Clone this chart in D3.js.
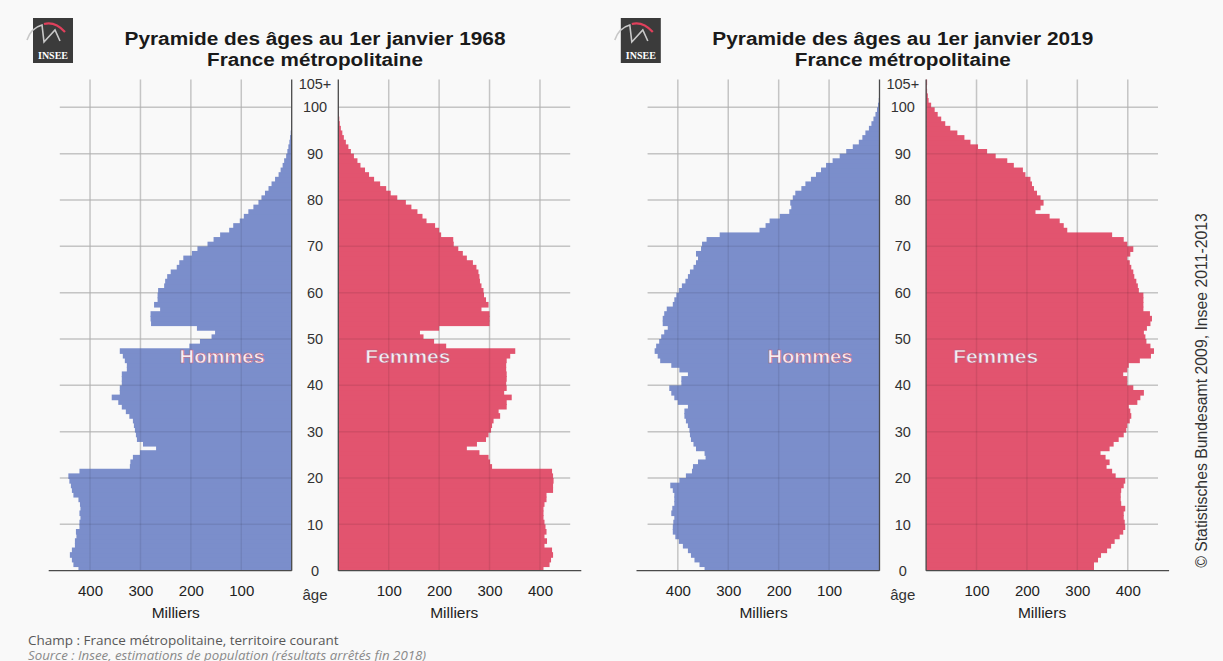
<!DOCTYPE html>
<html>
<head>
<meta charset="utf-8">
<script src="https://cdn.jsdelivr.net/npm/d3@7"></script>
<style>
html, body { margin: 0; padding: 0; background: #f9f9f9; }
svg { display: block; font-family: "Liberation Sans", Arial, sans-serif; }
</style>
</head>
<body>
<svg id="chart" width="1223" height="661"></svg>
<script>
// Ages 0 .. 105 (105 = "105+"), values in thousands
const ages = d3.range(0, 106);
const ageTicks = [0, 10, 20, 30, 40, 50, 60, 70, 80, 90, 100];
const valueTicks = [100, 200, 300, 400];

const hommes1968 = [423,433,436,440,436,430,430,427,428,421, 421,419,421,419,420,423,433,436,438,441,
  443,421,321,320,315,301,269,295,307,309, 311,313,315,322,329,337,344,357,341,341,
  337,337,337,327,327,331,335,341,203,182, 159,152,188,279,280,280,261,273,266,266,
  265,253,251,247,240,228,223,215,198,187, 167,155,142,124,116,103,95,86,76,66,
  60,53,46,40,33,26,22,18,15,11, 8.6,6.6,4.6,3.3,2,1.2,0.7,0.4,0.2,0.1, 0,0,0,0,0,0];
const femmes1968 = [407,419,422,426,424,409,414,409,413,411, 409,407,407,407,409,413,413,426,426,427,
  426,424,305,301,298,280,255,275,293,298, 303,305,308,321,318,334,334,344,329,334,
  333,334,334,333,333,334,341,351,214,190, 169,162,200,300,300,300,284,298,293,289,
  288,284,281,280,278,274,267,255,247,238, 229,228,204,200,192,175,167,157,145,134,
  117,104,95,83,71,61,53,44,38,31, 25,20,15,11,8,5,3,2,1.2,0.7, 0.4,0.2,0.1,0.1,0.1,0.1];
const hommes2019 = [347,357,367,374,380,390,398,405,410,410, 409,407,413,411,407,407,407,410,415,397,
  384,372,370,360,345,347,364,369,374,376, 377,380,384,387,387,380,400,407,413,417,
  393,393,380,397,413,435,440,446,443,437, 433,427,420,430,430,427,422,410,407,403,
  398,392,385,380,376,369,364,360,364,354, 352,343,317,238,226,218,198,179,175,177,
  172,167,155,147,136,126,116,106,93,79, 66,53,41,34,28,21,16,12,8,5, 3,1.5,1,0.5,0.3,0.3];
const femmes2019 = [333,333,341,347,359,367,374,384,391,395, 394,392,392,395,387,386,386,387,392,395,
  376,369,358,364,356,346,364,372,382,392, 397,399,404,407,405,402,419,425,432,411,
  399,399,391,399,402,424,446,452,445,437, 435,432,438,445,448,444,431,431,431,431,
  422,420,417,413,411,407,404,399,405,411, 399,392,369,280,273,265,245,217,227,233,
  227,220,214,210,207,197,192,174,161,138, 121,103,88,76,62,48,38,30,23,17, 10,5,3.5,2,1.5,2];

const panels = [
  { annee: "1968", hommes: hommes1968, femmes: femmes1968, cx: 315 },
  { annee: "2019", hommes: hommes2019, femmes: femmes2019, cx: 902.8 }
];

const blue = "#7b8ecb", red = "#e2546f";
const halfGap = 23.3, sideWidth = 243, axisMax = 482, gridMax = 460, labelValue = 138;

let svg = d3.select("#chart");

svg.append("rect")
    .attr("width", 1223)
    .attr("height", 661)
    .attr("fill", "#f9f9f9");

let y = d3.scaleLinear()
    .domain([0, 106])
    .range([570.7, 79.5]);

function drawLogo(g, x0, y0) {
    let logo = g.append("g").attr("transform", "translate(" + x0 + "," + y0 + ")");
    logo.append("rect")
        .attr("width", 40).attr("height", 45)
        .attr("fill", "#3b3b3b");
    logo.append("path")
        .attr("d", "M-6,22 Q-2,10 9,7 L11,24 L22,12 L27,23")
        .attr("fill", "none")
        .attr("stroke", "#c8c8c8")
        .attr("stroke-width", 1.6);
    logo.append("path")
        .attr("d", "M11,6 Q22,3 32,14")
        .attr("fill", "none")
        .attr("stroke", "#e0405c")
        .attr("stroke-width", 2.2);
    logo.append("text")
        .attr("x", 20).attr("y", 41)
        .attr("text-anchor", "middle")
        .style("font-family", "'Liberation Serif', serif")
        .style("font-weight", "bold")
        .style("font-size", "10px")
        .attr("fill", "#ffffff")
        .text("INSEE");
}

function gridLines(grid, xH, xF) {
    ageTicks.slice(1).forEach(function(a) {
        grid.append("line")
            .attr("x1", xH(gridMax)).attr("x2", xH(0))
            .attr("y1", y(a)).attr("y2", y(a));
        grid.append("line")
            .attr("x1", xF(0)).attr("x2", xF(gridMax))
            .attr("y1", y(a)).attr("y2", y(a));
    });
    valueTicks.forEach(function(v) {
        grid.append("line")
            .attr("x1", xH(v)).attr("x2", xH(v))
            .attr("y1", y(106)).attr("y2", y(0));
        grid.append("line")
            .attr("x1", xF(v)).attr("x2", xF(v))
            .attr("y1", y(106)).attr("y2", y(0));
    });
}

panels.forEach(function(p) {
    let g = svg.append("g");

    let xH = d3.scaleLinear()
        .domain([axisMax, 0])
        .range([p.cx - halfGap - sideWidth, p.cx - halfGap]);
    let xF = d3.scaleLinear()
        .domain([0, axisMax])
        .range([p.cx + halfGap, p.cx + halfGap + sideWidth]);

    // light grid under the bars
    gridLines(g.append("g").attr("stroke", "#d6d6d6").attr("stroke-width", 1.5), xH, xF);

    // bars (1px overlap downward hides antialiasing seams)
    g.append("g").selectAll("rect")
        .data(ages)
        .enter()
        .append("rect")
        .attr("x", function(a) { return xH(p.hommes[a]); })
        .attr("y", function(a) { return y(a + 1); })
        .attr("width", function(a) { return xH(0) - xH(p.hommes[a]); })
        .attr("height", function(a) { return a === 0 ? y(0) - y(1) : y(a) - y(a + 1) + 1; })
        .attr("fill", blue);

    g.append("g").selectAll("rect")
        .data(ages)
        .enter()
        .append("rect")
        .attr("x", xF(0))
        .attr("y", function(a) { return y(a + 1); })
        .attr("width", function(a) { return xF(p.femmes[a]) - xF(0); })
        .attr("height", function(a) { return a === 0 ? y(0) - y(1) : y(a) - y(a + 1) + 1; })
        .attr("fill", red);

    // faint grid over the bars
    gridLines(g.append("g").attr("stroke", "rgba(0,0,0,0.08)").attr("stroke-width", 1.5), xH, xF);

    // axis lines
    let axes = g.append("g").attr("stroke", "#4a4a4a").attr("stroke-width", 1.3);
    axes.append("line")
        .attr("x1", xH(0)).attr("x2", xH(0))
        .attr("y1", y(106)).attr("y2", y(0));
    axes.append("line")
        .attr("x1", xF(0)).attr("x2", xF(0))
        .attr("y1", y(106)).attr("y2", y(0));
    axes.append("line")
        .attr("x1", xH(axisMax)).attr("x2", xH(0))
        .attr("y1", y(0)).attr("y2", y(0));
    axes.append("line")
        .attr("x1", xF(0)).attr("x2", xF(axisMax))
        .attr("y1", y(0)).attr("y2", y(0));

    // value axes
    [xH, xF].forEach(function(sc) {
        let ax = g.append("g")
            .attr("transform", "translate(0," + y(0) + ")")
            .call(d3.axisBottom(sc).tickValues(valueTicks).tickSize(0).tickPadding(15));
        ax.select(".domain").remove();
        ax.selectAll("text")
            .style("font-family", "'Liberation Sans', Arial, sans-serif")
            .style("font-size", "15px")
            .attr("fill", "#222");
    });

    // age axis, centred in the gap
    let ay = g.append("g")
        .attr("transform", "translate(" + p.cx + ",0)")
        .call(d3.axisRight(y)
            .tickValues(ageTicks.concat([105]))
            .tickFormat(function(d) { return d === 105 ? "105+" : d; })
            .tickSize(0));
    ay.select(".domain").remove();
    ay.selectAll("text")
        .attr("x", 0)
        .attr("text-anchor", "middle")
        .style("font-family", "'Liberation Sans', Arial, sans-serif")
        .style("font-size", "14.5px")
        .attr("fill", "#333");

    g.append("text")
        .attr("x", p.cx).attr("y", 600)
        .attr("text-anchor", "middle")
        .style("font-size", "15px")
        .attr("fill", "#333")
        .text("âge");

    [[xH(gridMax), xH(0)], [xF(0), xF(gridMax)]].forEach(function(r) {
        g.append("text")
            .attr("x", (r[0] + r[1]) / 2).attr("y", 618)
            .attr("text-anchor", "middle")
            .style("font-size", "15.5px")
            .attr("fill", "#222")
            .text("Milliers");
    });

    // sex labels
    [["Hommes", xH(labelValue)], ["Femmes", xF(labelValue)]].forEach(function(l) {
        g.append("text")
            .attr("x", l[1]).attr("y", 363)
            .attr("text-anchor", "middle")
            .attr("textLength", 85)
            .attr("lengthAdjust", "spacingAndGlyphs")
            .style("font-size", "18px")
            .style("font-weight", "bold")
            .attr("fill", "#f6eef3")
            .attr("stroke", "#b9587a")
            .attr("stroke-width", 0.5)
            .text(l[0]);
    });

    // title
    g.append("text")
        .attr("x", p.cx).attr("y", 44.5)
        .attr("text-anchor", "middle")
        .attr("textLength", 381)
        .attr("lengthAdjust", "spacingAndGlyphs")
        .style("font-size", "18px")
        .style("font-weight", "bold")
        .attr("fill", "#1a1a1a")
        .text("Pyramide des âges au 1er janvier " + p.annee);
    g.append("text")
        .attr("x", p.cx).attr("y", 66)
        .attr("text-anchor", "middle")
        .attr("textLength", 216)
        .attr("lengthAdjust", "spacingAndGlyphs")
        .style("font-size", "18px")
        .style("font-weight", "bold")
        .attr("fill", "#1a1a1a")
        .text("France métropolitaine");

    drawLogo(g, p.cx - 282, 18);
});

// source notes
svg.append("text")
    .attr("x", 28).attr("y", 645)
    .style("font-family", "'Open Sans', sans-serif")
    .style("font-size", "13.5px")
    .attr("fill", "#585858")
    .text("Champ : France métropolitaine, territoire courant");
svg.append("text")
    .attr("x", 28).attr("y", 660)
    .style("font-family", "'Open Sans', sans-serif")
    .style("font-size", "13.3px")
    .style("font-style", "italic")
    .attr("fill", "#8a8a8a")
    .text("Source : Insee, estimations de population (résultats arrêtés fin 2018)");

svg.append("text")
    .attr("transform", "translate(1201.7,390.5) rotate(-90)")
    .attr("text-anchor", "middle")
    .attr("dominant-baseline", "central")
    .style("font-size", "15.8px")
    .attr("fill", "#333")
    .text("© Statistisches Bundesamt 2009, Insee 2011-2013");
</script>
</body>
</html>
